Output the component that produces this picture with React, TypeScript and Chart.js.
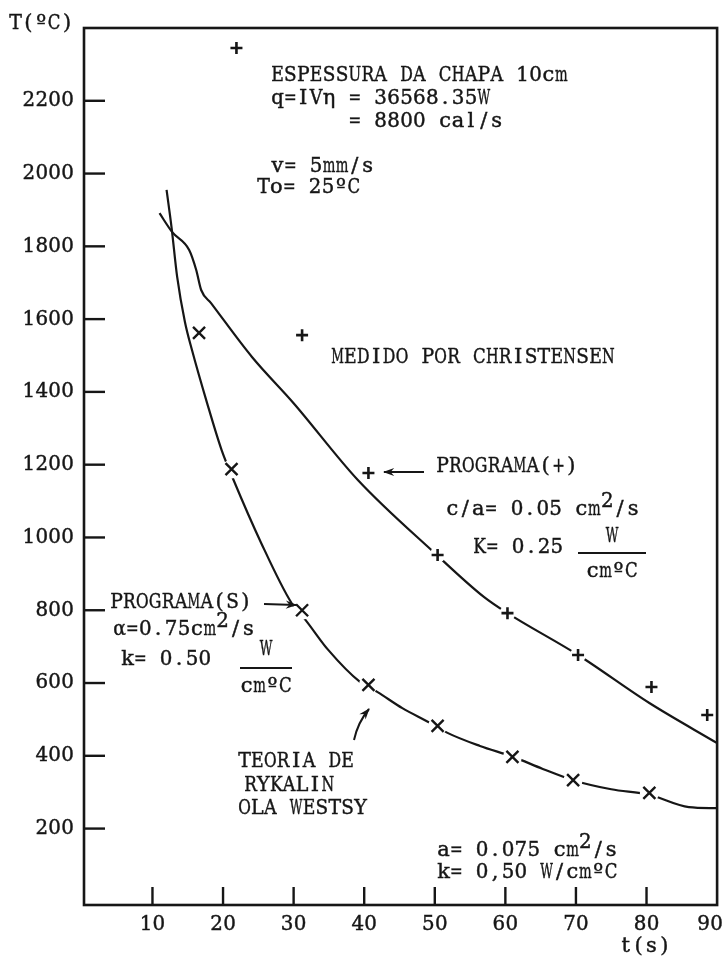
import { useEffect, useRef } from "react";
import { Chart, registerables } from "chart.js";

Chart.register(...registerables);

// Axis ticks
const timeTicks = [10, 20, 30, 40, 50, 60, 70, 80, 90];
const tempTicks = [200, 400, 600, 800, 1000, 1200, 1400, 1600, 1800, 2000, 2200];

// Curve through the PROGRAMA(+) results (t in s, T in ºC)
const plusCurveTime = [11.0, 12.8, 15.2, 16.2, 16.9, 18.3, 24.1, 30.0, 39.1, 50.0, 57.0, 60.3, 70.3, 80.4, 90];
const plusCurveTemp = [1891, 1839, 1790, 1735, 1680, 1644, 1496, 1369, 1158, 957, 836, 792, 677, 545, 435];

// Rykalin / Ola Westsy theory curve
const theoryTime = [12.0, 12.7, 13.5, 14.6, 15.6, 17.7, 19.8, 21.4, 25.4, 29.7, 31.7, 34.9, 39.4, 41.9, 45.4, 49.4, 51.8, 56.4, 61.1, 65.3, 69.6, 75.0, 80.4, 86.0, 90];
const theoryTemp = [1955, 1853, 1716, 1592, 1515, 1372, 1240, 1162, 985, 820, 773, 691, 603, 575, 531, 490, 463, 427, 397, 364, 333, 308, 293, 259, 256];

// PROGRAMA(+) points
const plusTime = [21.9, 31.2, 40.6, 50.4, 60.3, 70.3, 80.7, 88.6];
const plusTemp = [2345, 1556, 1177, 952, 792, 677, 589, 512];

// PROGRAMA(S) points
const sTime = [16.6, 21.2, 31.2, 40.6, 50.4, 61.0, 69.6, 80.4];
const sTemp = [1562, 1188, 800, 595, 482, 397, 333, 298];

const INK = "#161616";
const FAMILY = '"DejaVu Serif", "Liberation Serif", serif';
const SIZE = 21;
const PITCH = 12.9; // typewriter character pitch

const toPoints = (xs: number[], ys: number[]) => xs.map((x, i) => ({ x, y: ys[i] }));

type Part = { t: string; up?: boolean };

// Draws text on a fixed pitch, one glyph per cell, like a typewriter.
function typeText(ctx: CanvasRenderingContext2D, parts: Part[], x: number, y: number, align: "left" | "center" | "right" = "left") {
  ctx.font = `${SIZE}px ${FAMILY}`;
  ctx.textAlign = "center";
  ctx.textBaseline = "middle";
  ctx.lineWidth = 0.45;
  const count = parts.reduce((n, p) => n + Array.from(p.t).length, 0);
  const total = count * PITCH;
  let cx = align === "left" ? x : align === "center" ? x - total / 2 : x - total;
  for (const p of parts) {
    const yy = p.up ? y - 8 : y;
    for (const ch of Array.from(p.t)) {
      const mid = cx + PITCH / 2;
      const w = ctx.measureText(ch).width;
      const s = w > PITCH * 0.98 ? (PITCH * 0.98) / w : 1;
      ctx.save();
      ctx.translate(mid, yy);
      ctx.scale(s, 1);
      ctx.fillText(ch, 0, 0);
      ctx.strokeText(ch, 0, 0);
      ctx.restore();
      cx += PITCH;
    }
  }
}

function arrow(ctx: CanvasRenderingContext2D, x1: number, y1: number, x2: number, y2: number, cx?: number, cy?: number) {
  ctx.beginPath();
  ctx.moveTo(x1, y1);
  if (cx !== undefined && cy !== undefined) ctx.quadraticCurveTo(cx, cy, x2, y2);
  else ctx.lineTo(x2, y2);
  ctx.stroke();
  const fx = cx !== undefined ? cx : x1;
  const fy = cy !== undefined ? cy : y1;
  const a = Math.atan2(y2 - fy, x2 - fx);
  const len = 11;
  const half = 0.38;
  ctx.beginPath();
  ctx.moveTo(x2 + Math.cos(a), y2 + Math.sin(a));
  ctx.lineTo(x2 - len * Math.cos(a - half), y2 - len * Math.sin(a - half));
  ctx.lineTo(x2 - len * 0.6 * Math.cos(a), y2 - len * 0.6 * Math.sin(a));
  ctx.lineTo(x2 - len * Math.cos(a + half), y2 - len * Math.sin(a + half));
  ctx.closePath();
  ctx.fill();
}

const paperPlugin = {
  id: "paper",
  afterDraw(chart: any) {
    const { ctx, chartArea: a, scales } = chart;
    const xs = scales.x;
    const ys = scales.y;
    ctx.save();
    ctx.strokeStyle = INK;
    ctx.fillStyle = INK;
    ctx.lineCap = "butt";

    // frame
    ctx.lineWidth = 2.6;
    ctx.strokeRect(a.left, a.top, a.right - a.left, a.bottom - a.top);

    // tick marks drawn inward
    ctx.lineWidth = 2.4;
    for (const v of tempTicks) {
      const py = ys.getPixelForValue(v);
      ctx.beginPath();
      ctx.moveTo(a.left, py);
      ctx.lineTo(a.left + 21, py);
      ctx.stroke();
    }
    for (const v of timeTicks) {
      const px = xs.getPixelForValue(v);
      if (px >= a.right - 2) continue;
      ctx.beginPath();
      ctx.moveTo(px, a.bottom);
      ctx.lineTo(px, a.bottom - 18);
      ctx.stroke();
    }

    // tick labels
    for (const v of tempTicks) {
      typeText(ctx, [{ t: String(v) }], a.left - 10, ys.getPixelForValue(v), "right");
    }
    for (const v of timeTicks) {
      const label = String(v);
      const w = label.length * PITCH;
      const px = Math.min(xs.getPixelForValue(v), chart.width - 5 - w / 2);
      typeText(ctx, [{ t: label }], px, a.bottom + 20, "center");
    }
    typeText(ctx, [{ t: "T(ºC)" }], 9, 24);
    typeText(ctx, [{ t: "t(s)" }], 645, 947, "center");

    // heading block
    typeText(ctx, [{ t: "ESPESSURA DA CHAPA 10cm" }], 271, 76);
    typeText(ctx, [{ t: "q=IVη = 36568.35W" }], 271, 99);
    typeText(ctx, [{ t: "= 8800 cal/s" }], 271 + 6 * PITCH, 122);
    typeText(ctx, [{ t: "v= 5mm/s" }], 271, 167);
    typeText(ctx, [{ t: "To= 25ºC" }], 257, 188);
    typeText(ctx, [{ t: "MEDIDO POR CHRISTENSEN" }], 331, 358);

    // PROGRAMA(+)
    typeText(ctx, [{ t: "PROGRAMA(+)" }], 436, 467);
    typeText(ctx, [{ t: "c/a= 0.05 cm" }, { t: "2", up: true }, { t: "/s" }], 446, 510);
    typeText(ctx, [{ t: "K= 0.25" }], 473, 548);
    typeText(ctx, [{ t: "W" }], 612, 537, "center");
    typeText(ctx, [{ t: "cmºC" }], 612, 572, "center");

    // PROGRAMA(S)
    typeText(ctx, [{ t: "PROGRAMA(S)" }], 110, 603);
    typeText(ctx, [{ t: "α=0.75cm" }, { t: "2", up: true }, { t: "/s" }], 113, 630);
    typeText(ctx, [{ t: "k= 0.50" }], 121, 660);
    typeText(ctx, [{ t: "W" }], 266, 650, "center");
    typeText(ctx, [{ t: "cmºC" }], 266, 687, "center");

    // theory
    typeText(ctx, [{ t: "TEORIA DE" }], 238, 762);
    typeText(ctx, [{ t: "RYKALIN" }], 244, 786);
    typeText(ctx, [{ t: "OLA WESTSY" }], 238, 809);
    typeText(ctx, [{ t: "a= 0.075 cm" }, { t: "2", up: true }, { t: "/s" }], 437, 851);
    typeText(ctx, [{ t: "k= 0,50 W/cmºC" }], 437, 873);

    // fraction bars and arrows
    ctx.lineWidth = 1.8;
    ctx.beginPath();
    ctx.moveTo(578, 553);
    ctx.lineTo(646, 553);
    ctx.moveTo(240, 668);
    ctx.lineTo(292, 668);
    ctx.stroke();

    ctx.lineWidth = 2;
    arrow(ctx, 424, 472, 384, 472);
    arrow(ctx, 264, 604, 296, 605);
    arrow(ctx, 354, 740, 369, 709, 358, 722);

    ctx.restore();
  },
};

export default function App() {
  const canvasRef = useRef<HTMLCanvasElement | null>(null);

  useEffect(() => {
    const canvas = canvasRef.current;
    if (!canvas) return;
    const chart = new Chart(canvas, {
      type: "line",
      data: {
        datasets: [
          {
            label: "PROGRAMA(+) curve",
            data: toPoints(plusCurveTime, plusCurveTemp),
            borderColor: INK,
            borderWidth: 2.2,
            pointRadius: 0,
            cubicInterpolationMode: "monotone",
            fill: false,
            order: 3,
          },
          {
            label: "Teoria de Rykalin",
            data: toPoints(theoryTime, theoryTemp),
            borderColor: INK,
            borderWidth: 2.2,
            pointRadius: 0,
            cubicInterpolationMode: "monotone",
            fill: false,
            order: 3,
          },
          {
            // white clearance so the pen line breaks around each mark
            label: "gap +",
            data: toPoints(plusTime, plusTemp),
            showLine: false,
            pointStyle: "circle",
            pointRadius: 8,
            pointBorderWidth: 0,
            pointBackgroundColor: "#ffffff",
            order: 2,
          },
          {
            label: "gap S",
            data: toPoints(sTime, sTemp),
            showLine: false,
            pointStyle: "circle",
            pointRadius: 9.5,
            pointBorderWidth: 0,
            pointBackgroundColor: "#ffffff",
            order: 2,
          },
          {
            label: "PROGRAMA(+)",
            data: toPoints(plusTime, plusTemp),
            showLine: false,
            pointStyle: "cross",
            pointRadius: 6,
            pointBorderWidth: 2.6,
            pointBorderColor: INK,
            order: 1,
          },
          {
            label: "PROGRAMA(S)",
            data: toPoints(sTime, sTemp),
            showLine: false,
            pointStyle: "crossRot",
            pointRadius: 8.5,
            pointBorderWidth: 2.4,
            pointBorderColor: INK,
            order: 1,
          },
        ],
      },
      options: {
        animation: false,
        responsive: false,
        maintainAspectRatio: false,
        devicePixelRatio: 1,
        layout: { padding: { left: 84, top: 28, right: 6, bottom: 56 } },
        scales: {
          x: { type: "linear", min: 0.3, max: 90, display: false },
          y: { type: "linear", min: -10, max: 2400, display: false },
        },
        plugins: {
          legend: { display: false },
          tooltip: { enabled: false },
        },
        elements: { point: { hoverRadius: 0 } },
      },
      plugins: [paperPlugin],
    });
    return () => chart.destroy();
  }, []);

  return (
    <div style={{ position: "absolute", left: 0, top: 0, width: 728, height: 961, background: "#ffffff" }}>
      <canvas ref={canvasRef} width={728} height={961} style={{ display: "block" }} />
    </div>
  );
}
